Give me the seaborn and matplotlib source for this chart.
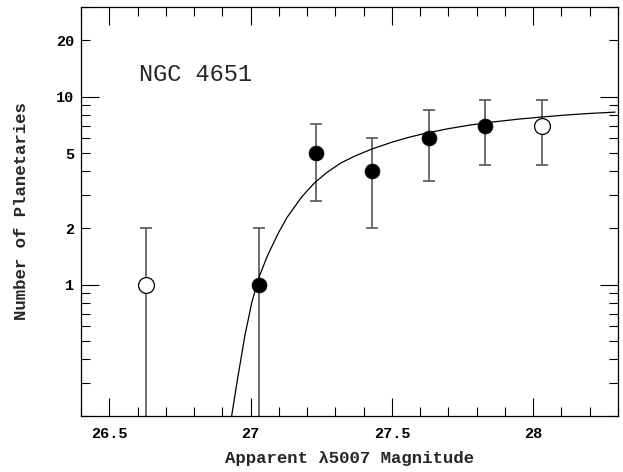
import numpy as np
import pandas as pd
import seaborn as sns
import matplotlib.pyplot as plt

sns.set_theme(style="ticks")
plt.rcParams['font.family'] = ['Liberation Mono', 'DejaVu Sans Mono', 'DejaVu Sans']

# binned PN counts
mag = [26.63, 27.03, 27.23, 27.43, 27.63, 27.83, 28.03]
count = [1, 1, 5, 4, 6, 7, 7]
err_hi = [2.0, 2.0, 7.2, 6.0, 8.45, 9.65, 9.65]
err_lo = [0.01, 0.01, 2.77, 2.0, 3.55, 4.35, 4.35]
used = [False, True, True, True, True, True, False]

# fitted luminosity function
fit_mag = [26.933, 26.953, 26.98, 27.005, 27.03, 27.06, 27.10, 27.13, 27.18,
           27.225, 27.27, 27.32, 27.37, 27.43, 27.50, 27.56, 27.62, 27.70,
           27.78, 27.86, 27.95, 28.03, 28.12, 28.20, 28.29]
fit_n = [0.200, 0.309, 0.537, 0.813, 1.096, 1.429, 1.905, 2.291, 2.917,
         3.467, 3.954, 4.446, 4.842, 5.272, 5.728, 6.081, 6.397, 6.761,
         7.079, 7.345, 7.603, 7.798, 7.998, 8.147, 8.279]

df = pd.DataFrame({"mag": mag, "n": count, "used": used})

fig = plt.figure(figsize=(6.23, 4.72), dpi=100)
ax = fig.add_axes([0.130, 0.1186, 0.862, 0.8665])

yerr = [np.array(count) - np.array(err_lo), np.array(err_hi) - np.array(count)]
ax.errorbar(mag, count, yerr=yerr, fmt="none", ecolor="#555555",
            elinewidth=1.2, capsize=4.6, capthick=1.2, zorder=1)

sns.lineplot(x=fit_mag, y=fit_n, color="black", linewidth=0.9, sort=False,
             ax=ax, zorder=2)

sns.scatterplot(data=df[df.used], x="mag", y="n", color="black", s=115,
                edgecolor="black", linewidth=0.5, ax=ax, zorder=3)
sns.scatterplot(data=df[~df.used], x="mag", y="n", facecolor="white", s=130,
                edgecolor="black", linewidth=0.9, ax=ax, zorder=3)

ax.set_yscale("log")
ax.set_xlim(26.4, 28.28)
ax.set_ylim(0.2, 30)

ax.set_xticks([26.5, 27, 27.5, 28], labels=["26.5", "27", "27.5", "28"])
ax.set_xticks(np.arange(26.4, 28.3, 0.1), minor=True)
ax.set_yticks([1, 10], labels=["1", "10"])
yminor = [0.2, 0.3, 0.4, 0.5, 0.6, 0.7, 0.8, 0.9, 2, 3, 4, 5, 6, 7, 8, 9, 20, 30]
ax.set_yticks(yminor, labels=["2" if v == 2 else "5" if v == 5 else "20" if v == 20 else ""
                              for v in yminor], minor=True)

ax.tick_params(which="both", direction="in", top=True, right=True,
               width=0.8, labelsize=11, colors="black")
ax.tick_params(axis="x", which="both", pad=8)
ax.tick_params(axis="y", which="both", pad=5)
ax.tick_params(which="major", length=13)
ax.tick_params(which="minor", length=6.5)
for lab in ax.get_xticklabels(which="both") + ax.get_yticklabels(which="both"):
    lab.set_fontweight("bold")

for sp in ax.spines.values():
    sp.set_linewidth(0.9)
    sp.set_color("black")

ax.set_xlabel("Apparent λ5007 Magnitude", fontsize=12.5, fontweight="bold", labelpad=7)
ax.set_ylabel("Number of Planetaries", fontsize=12.5, fontweight="bold", labelpad=19)

ax.text(0.108, 0.834, "NGC 4651", transform=ax.transAxes, fontsize=17,
        ha="left", va="center")

fig.savefig("out.png", dpi=100)
